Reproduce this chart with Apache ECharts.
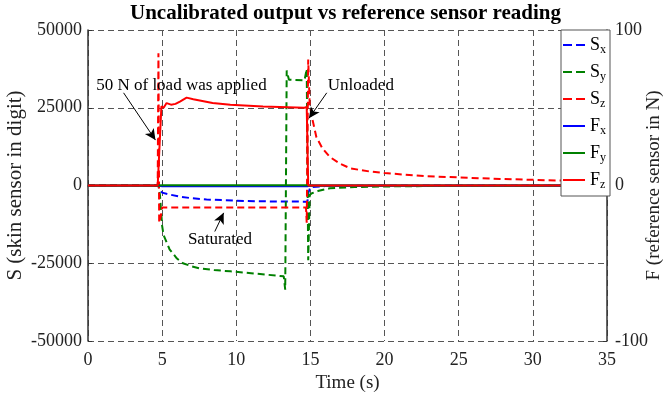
<!DOCTYPE html>
<html>
<head>
<meta charset="utf-8">
<script src="https://cdn.jsdelivr.net/npm/echarts@6/dist/echarts.min.js"></script>
<style>
  html, body { margin: 0; padding: 0; background: #fff; }
  #chart { width: 671px; height: 394px; }
</style>
</head>
<body>
<div id="chart"></div>
<script>
// skin sensor readings (digit), [time s, value]
const sxData = [[0, 0], [4.75, 0], [4.85, -1500], [5.0, -2300], [5.5, -2900], [6.2, -3600], [7, -4100], [8, -4500],
  [9, -4700], [10, -4900], [12, -5100], [14.8, -5200], [14.85, -2500], [15.0, -500], [16, -200], [20, 0], [35, 0]];
const syData = [[0, 0], [4.75, 0], [4.85, -3000], [5.0, -13000], [5.1, -16000], [5.5, -20500], [6, -23500], [6.4, -25000],
  [7, -26000], [7.5, -26600], [8.5, -27200], [9.6, -27600], [11, -28200], [13.2, -29200], [13.3, -33500], [13.4, 37000],
  [13.55, 34000], [14.6, 33800], [14.75, 37500], [14.85, -24000], [14.95, -3000], [15.1, -2500], [15.5, -1800],
  [16.3, -900], [18, -500], [20, -300], [25, -100], [35, 0]];
const szData = [[0, 0], [4.7, 0], [4.75, 42500], [4.8, -12000], [4.9, -10000], [5.0, -7100], [14.7, -7100], [14.75, -12000],
  [14.85, 40500], [14.95, 26000], [15.1, 22000], [15.4, 15600], [15.8, 12000], [16.3, 9200], [17, 7000], [17.7, 5500],
  [19, 4500], [20, 4000], [22.7, 3000], [25, 2600], [27.8, 2100], [31, 1700], [35, 1300]];
// reference sensor (N)
const fxData = [[0, 0], [4.8, 0], [5, -0.5], [14.8, -0.5], [15, 0], [35, 0]];
const fyData = [[0, 0], [4.8, 0], [5, 0.2], [14.8, 0.2], [15, 0], [35, 0]];
const fzData = [[0, 0], [4.7, 0], [4.8, 0.5], [4.95, 51], [5.1, 50], [5.3, 53], [5.6, 52], [5.9, 52.5], [6.2, 54],
  [6.65, 56.5], [7.1, 55.5], [8.4, 53], [9.6, 52], [11.8, 50.8], [14.6, 50], [14.75, 50.5], [14.85, 0], [35, 0]];

const xTicks = { min: 0, max: 35, step: 5 };
const sTicks = { min: -50000, max: 50000, step: 25000 };
const fTicks = { min: -100, max: 100, step: 100 };

// annotations: [text, textPos, arrowTail, arrowHead] in data coords (left axis)
const notes = [
  ['50 N of load was applied', [6.3, 32200], [2.4, 29800], [4.55, 14600]],
  ['Unloaded', [18.4, 32200], [16.1, 29800], [14.9, 21600]],
  ['Saturated', [8.9, -17500], [8.55, -14800], [9.15, -8800]]
];

const FONT = 'Liberation Serif';
const dash = [7, 4];
const dashIcon = 'path://M0,0h9v2h-9zM13,0h9v2h-9z';
const solidIcon = 'path://M0,0h22v2h-22z';

const chart = echarts.init(document.getElementById('chart'));

function lineSeries(name, data, color, dashed, yIndex) {
  return {
    name: name,
    type: 'line',
    yAxisIndex: yIndex,
    data: data,
    showSymbol: false,
    symbol: 'none',
    animation: false,
    lineStyle: { color: color, width: 2, type: dashed ? dash : 'solid' },
    itemStyle: { color: color }
  };
}

const series = [
  lineSeries('Sx', sxData, '#0000ff', true, 0),
  lineSeries('Sy', syData, '#008000', true, 0),
  lineSeries('Sz', szData, '#ff0000', true, 0),
  lineSeries('Fx', fxData, '#0000ff', false, 1),
  lineSeries('Fy', fyData, '#008000', false, 1),
  lineSeries('Fz', fzData, '#ff0000', false, 1)
];

// annotation holder
series.push({
  type: 'line',
  yAxisIndex: 0,
  data: [],
  silent: true,
  animation: false,
  markPoint: {
    symbol: 'circle',
    symbolSize: 1,
    itemStyle: { color: 'rgba(0,0,0,0)' },
    label: { show: true, position: 'inside', color: '#000', fontFamily: FONT, fontSize: 17 },
    data: notes.map(n => ({ coord: n[1], value: n[0], label: { formatter: n[0] } }))
  },
  markLine: {
    silent: true,
    symbol: ['none', 'arrow'],
    symbolSize: [8, 11],
    label: { show: false },
    lineStyle: { color: '#000', width: 1, type: 'solid' },
    data: notes.map(n => [{ coord: n[2] }, { coord: n[3] }])
  }
});

const axisLabelStyle = { color: '#222', fontFamily: FONT, fontSize: 18, formatter: v => String(v) };

chart.setOption({
  animation: false,
  backgroundColor: '#fff',
  title: {
    text: 'Uncalibrated output vs reference sensor reading',
    left: 130,
    top: 3,
    padding: 0,
    textStyle: { fontFamily: FONT, fontSize: 21, fontWeight: 'bold', color: '#000' }
  },
  grid: { left: 88, right: 64, top: 30, bottom: 53, containLabel: false, outerBoundsMode: 'none' },
  legend: {
    data: [
      { name: 'Sx', icon: dashIcon }, { name: 'Sy', icon: dashIcon }, { name: 'Sz', icon: dashIcon },
      { name: 'Fx', icon: solidIcon }, { name: 'Fy', icon: solidIcon }, { name: 'Fz', icon: solidIcon }
    ],
    orient: 'vertical',
    left: 561,
    top: 30,
    itemWidth: 22,
    itemHeight: 2,
    itemGap: 7,
    itemTextGap: 2,
    padding: [6, 4, 5, 2],
    backgroundColor: '#fff',
    borderColor: '#555',
    borderWidth: 1,
    formatter: name => '{s|' + name[0] + '}{sub|' + name[1] + '}',
    textStyle: {
      rich: {
        s: { fontFamily: FONT, fontSize: 18, color: '#000' },
        sub: { fontFamily: FONT, fontSize: 12, color: '#000', padding: [10, 0, 0, 0] }
      }
    }
  },
  xAxis: {
    type: 'value',
    min: xTicks.min,
    max: xTicks.max,
    interval: xTicks.step,
    name: 'Time (s)',
    nameLocation: 'middle',
    nameGap: 33,
    nameMoveOverlap: false,
    nameTextStyle: { fontFamily: FONT, fontSize: 19, color: '#222' },
    axisLine: { lineStyle: { color: '#333', width: 1.5 } },
    axisTick: { inside: true, length: 4, lineStyle: { color: '#333' } },
    axisLabel: Object.assign({ margin: 10 }, axisLabelStyle),
    splitLine: { show: true, lineStyle: { color: '#555', type: [6, 4], width: 1 } }
  },
  yAxis: [
    {
      type: 'value',
      min: sTicks.min,
      max: sTicks.max,
      interval: sTicks.step,
      name: 'S (skin sensor in digit)',
      nameLocation: 'middle',
      nameRotate: 90,
      nameGap: 62,
      nameMoveOverlap: false,
      nameTextStyle: { fontFamily: FONT, fontSize: 21, color: '#222' },
      axisLine: { show: true, lineStyle: { color: '#333', width: 1.5 } },
      axisTick: { show: true, inside: true, length: 4, lineStyle: { color: '#333' } },
      axisLabel: Object.assign({ margin: 6 }, axisLabelStyle),
      splitLine: { show: true, lineStyle: { color: '#555', type: [6, 4], width: 1 } }
    },
    {
      type: 'value',
      position: 'right',
      min: fTicks.min,
      max: fTicks.max,
      interval: fTicks.step,
      name: 'F (reference sensor in N)',
      nameLocation: 'middle',
      nameRotate: 90,
      nameGap: 38,
      nameMoveOverlap: false,
      nameTextStyle: { fontFamily: FONT, fontSize: 19, color: '#222' },
      axisLine: { show: true, lineStyle: { color: '#333', width: 1.5 } },
      axisTick: { show: true, inside: true, length: 4, lineStyle: { color: '#333' } },
      axisLabel: Object.assign({ margin: 8 }, axisLabelStyle),
      splitLine: { show: false }
    }
  ],
  series: series
});
</script>
</body>
</html>
